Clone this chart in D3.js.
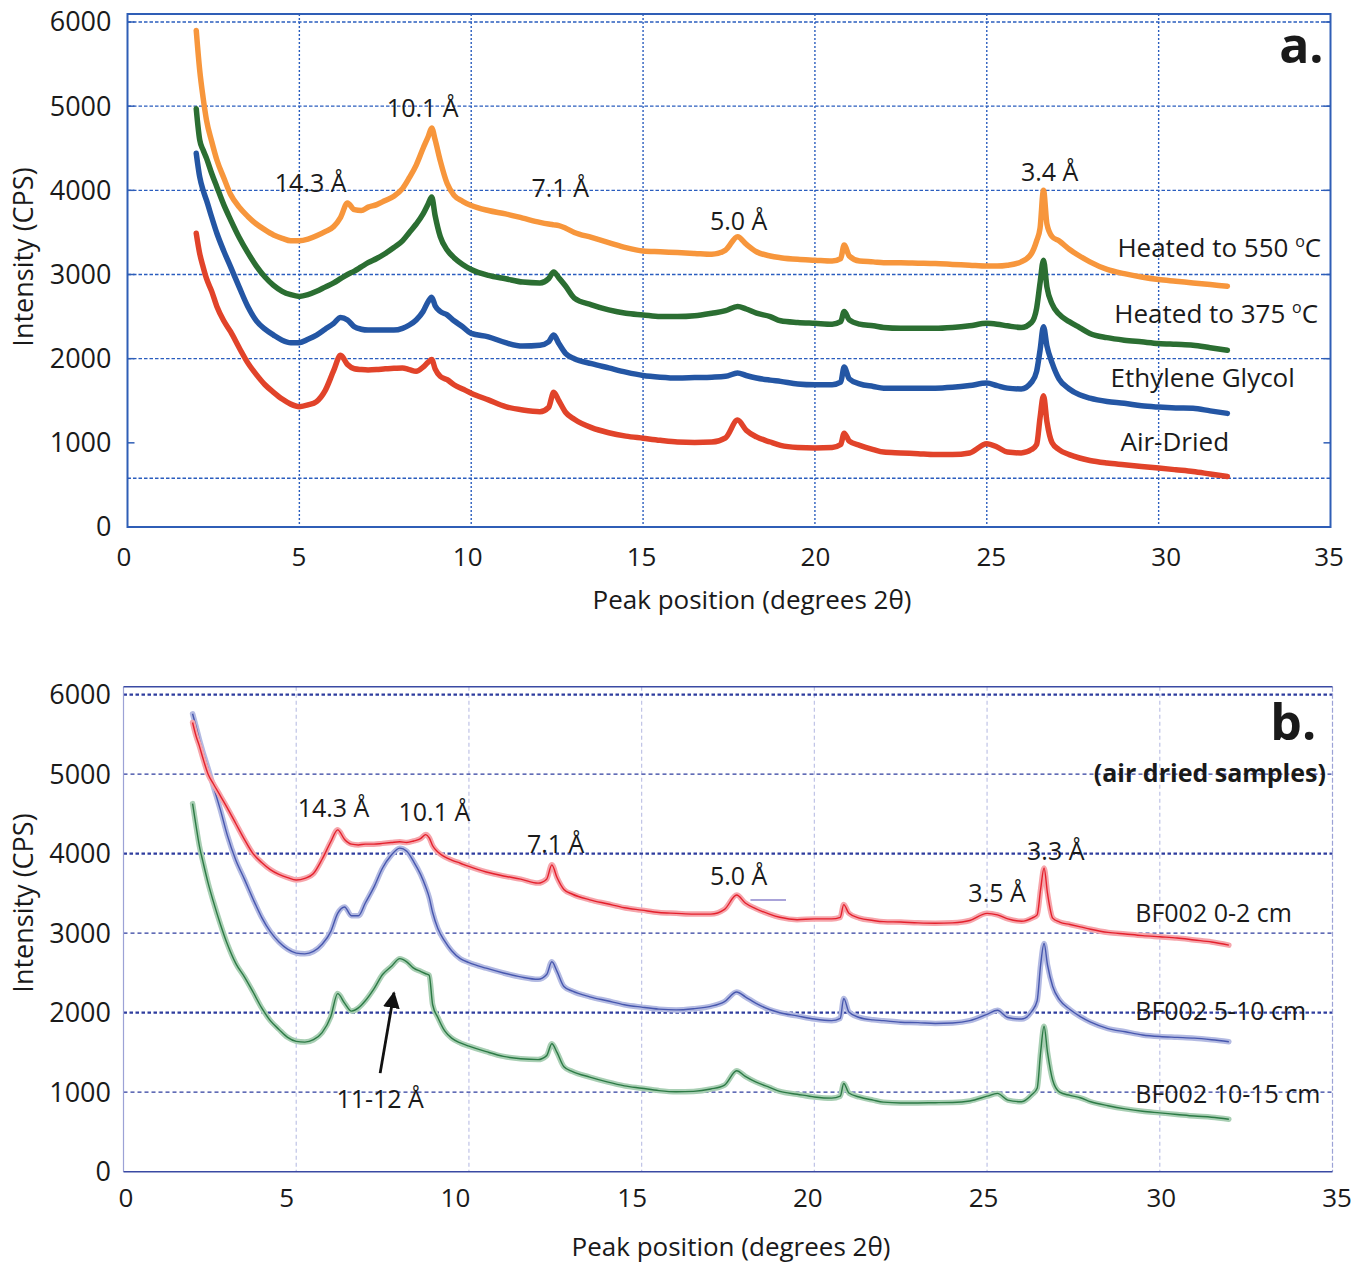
<!DOCTYPE html>
<html><head><meta charset="utf-8">
<script src="https://cdn.jsdelivr.net/npm/d3@7"></script>
<style>
html,body{margin:0;padding:0;background:#fff;}
svg{display:block;font-family:"Open Sans",sans-serif;}
</style></head><body>
<svg id="chart" width="1359" height="1264"></svg>
<script>
// ---------------- DATA ----------------
const twoTheta = [2.0,2.1,2.2,2.3,2.45,2.6,2.8,3.0,3.25,3.5,
 3.75,4.0,4.25,4.5,4.75,5.0,5.25,5.5,5.75,6.0,
 6.2,6.4,6.6,6.8,7.0,7.25,7.5,7.75,8.0,8.2,
 8.4,8.6,8.75,8.85,8.95,9.1,9.3,9.5,9.75,10.0,
 10.5,11.0,11.5,12.0,12.25,12.4,12.55,12.75,13.0,13.5,
 14.0,14.5,15.0,15.5,16.0,16.5,17.0,17.4,17.75,18.0,
 18.3,18.7,19.0,19.5,20.0,20.5,20.75,20.85,21.0,21.3,
 21.7,22.0,22.5,23.0,23.5,24.0,24.5,25.0,25.3,25.6,
 26.0,26.3,26.45,26.55,26.65,26.75,26.9,27.1,27.4,27.7,
 28.0,28.5,29.0,29.5,30.0,30.5,31.0,31.5,32.0];

// Panel a
const heated550 = [5900,5430,5100,4830,4580,4360,4150,3950,3800,3690,
 3600,3530,3470,3430,3400,3400,3420,3460,3510,3570,
 3680,3850,3770,3760,3800,3830,3880,3930,4020,4150,
 4300,4500,4640,4740,4600,4350,4080,3940,3870,3820,
 3760,3720,3670,3620,3600,3590,3580,3550,3500,3440,
 3380,3320,3280,3270,3260,3250,3240,3290,3450,3360,
 3270,3220,3200,3180,3170,3160,3190,3350,3220,3160,
 3150,3140,3140,3135,3130,3120,3110,3100,3100,3110,
 3150,3250,3400,3550,4000,3600,3450,3400,3300,3220,
 3150,3060,3010,2970,2940,2920,2900,2880,2860];
const heated375 = [4970,4600,4480,4380,4200,4040,3830,3650,3440,3260,
 3100,2970,2870,2800,2760,2740,2760,2800,2850,2900,
 2950,3000,3040,3090,3140,3190,3250,3320,3400,3500,
 3600,3720,3840,3920,3700,3450,3290,3200,3120,3060,
 2990,2950,2910,2900,2950,3030,2960,2860,2720,2640,
 2580,2540,2520,2500,2500,2510,2540,2570,2620,2590,
 2540,2500,2450,2430,2420,2410,2440,2560,2460,2410,
 2390,2370,2360,2360,2360,2370,2390,2420,2410,2390,
 2370,2430,2600,2900,3170,2850,2650,2530,2440,2370,
 2300,2250,2220,2200,2180,2170,2160,2130,2100];
const ethyleneGlycol = [4440,4160,4000,3880,3680,3490,3280,3090,2850,2620,
 2450,2350,2280,2220,2190,2190,2230,2280,2350,2420,
 2490,2460,2380,2350,2340,2340,2340,2340,2360,2400,
 2460,2560,2680,2730,2630,2560,2520,2450,2380,2300,
 2260,2190,2150,2160,2200,2280,2180,2060,2000,1940,
 1890,1840,1800,1780,1770,1775,1780,1790,1830,1800,
 1770,1745,1730,1700,1690,1690,1720,1900,1760,1700,
 1670,1650,1650,1650,1650,1660,1680,1710,1680,1650,
 1640,1720,1850,2100,2380,2150,1950,1760,1640,1570,
 1530,1490,1470,1440,1425,1415,1410,1380,1350];
const airDried = [3490,3250,3090,2950,2800,2620,2450,2320,2130,1950,
 1810,1690,1600,1520,1460,1430,1450,1490,1620,1860,
 2040,1930,1880,1870,1865,1870,1880,1885,1890,1870,
 1850,1900,1960,1990,1880,1790,1750,1690,1640,1590,
 1510,1430,1390,1370,1420,1600,1500,1360,1280,1180,
 1120,1080,1055,1030,1010,1005,1010,1060,1270,1150,
 1070,1010,970,945,940,945,980,1115,1020,970,
 920,890,880,870,860,860,880,990,950,890,
 880,920,980,1300,1560,1250,1000,920,860,820,
 790,760,740,720,700,680,660,630,600];

// Panel b
const bf002_0_2 = [5650,5480,5350,5200,5000,4880,4730,4580,4380,4180,
 4000,3890,3800,3740,3700,3670,3690,3750,3930,4150,
 4300,4180,4120,4110,4120,4120,4130,4140,4150,4140,
 4160,4190,4240,4200,4100,4020,3960,3920,3880,3840,
 3770,3720,3680,3630,3680,3860,3700,3550,3490,3420,
 3370,3320,3290,3260,3250,3240,3240,3300,3480,3380,
 3310,3240,3200,3170,3180,3180,3200,3360,3250,3190,
 3160,3145,3140,3130,3125,3130,3160,3250,3230,3180,
 3150,3190,3230,3550,3820,3500,3190,3140,3110,3080,
 3050,3010,2990,2970,2955,2940,2915,2890,2850];
const bf002_5_10 = [5760,5600,5430,5280,5070,4850,4560,4240,3920,3680,
 3430,3200,3020,2890,2800,2750,2740,2770,2860,3020,
 3250,3330,3220,3220,3380,3580,3820,3980,4070,4030,
 3900,3740,3580,3450,3260,3060,2900,2780,2680,2630,
 2560,2500,2450,2420,2480,2640,2520,2330,2270,2200,
 2150,2100,2070,2045,2035,2050,2080,2140,2260,2200,
 2120,2040,2000,1960,1920,1900,1930,2180,2010,1940,
 1910,1900,1880,1875,1865,1870,1900,1980,2030,1940,
 1920,2020,2150,2600,2870,2600,2330,2160,2040,1950,
 1880,1800,1760,1720,1700,1690,1680,1660,1635];
const bf002_10_15 = [4630,4350,4090,3900,3630,3400,3120,2870,2620,2450,
 2260,2060,1900,1790,1690,1640,1630,1660,1750,1950,
 2240,2120,2020,2060,2150,2300,2480,2580,2680,2640,
 2560,2520,2490,2470,2100,1940,1770,1680,1620,1580,
 1510,1450,1420,1410,1460,1610,1500,1320,1260,1190,
 1130,1080,1050,1020,1005,1010,1040,1090,1270,1200,
 1130,1060,1010,975,940,925,950,1110,990,940,
 900,875,865,865,868,870,890,950,985,900,
 880,970,1050,1500,1830,1500,1150,1000,960,930,
 880,830,790,760,740,720,700,685,660];

const xTicks = [0,5,10,15,20,25,30,35];
const yTicks = [0,1000,2000,3000,4000,5000,6000];
const xGridValues = [5,10,15,20,25,30];
const yGridA = [580,2000,3000,4000,5000,6000];
const yGridB = [1000,2000,3000,4000,5000,6000];
const yGridBBold = [2000,4000,6000];

// ---------------- DRAW ----------------
const svg = d3.select("#chart");
svg.append("rect").attr("width",1359).attr("height",1264).attr("fill","#fff");

function pts(vals){ return twoTheta.map((t,i)=>[t, vals[i]]).filter(d=>d[1]!=null); }

function label(g, x, y, text, opts){
  return g.append("text").attr("x",x).attr("y",y)
    .attr("font-size", opts.size || 25).attr("fill","#1a1a1a")
    .attr("text-anchor", opts.anchor || "start")
    .attr("font-weight", opts.weight || "normal").text(text);
}
function degLabel(g, x, y, pre){
  const t = g.append("text").attr("x",x).attr("y",y).attr("font-size",26).attr("fill","#1a1a1a");
  t.append("tspan").text(pre);
  t.append("tspan").attr("font-size",16).attr("dy",-10).text("o");
  t.append("tspan").attr("dy",10).text("C");
}

// ===== Panel a =====
(function(){
  const x = d3.scaleLinear().domain([0,35]).range([127.5,1330.5]);
  const y = d3.scaleLinear().domain([0,6000]).range([527,22]);
  const g = svg.append("g");
  const gc = "#2A5DBE";
  g.selectAll(".hg").data(yGridA).enter().append("line")
    .attr("x1",x(0)).attr("x2",x(35)).attr("y1",d=>y(d)).attr("y2",d=>y(d))
    .attr("stroke",gc).attr("stroke-width",1.4).attr("stroke-dasharray","3.5,2");
  g.selectAll(".vg").data(xGridValues).enter().append("line")
    .attr("x1",d=>x(d)).attr("x2",d=>x(d)).attr("y1",y(6095)).attr("y2",y(0))
    .attr("stroke",gc).attr("stroke-width",1.4).attr("stroke-dasharray","2,2");
  g.append("rect").attr("x",x(0)).attr("y",y(6095)).attr("width",x(35)-x(0)).attr("height",y(0)-y(6095))
    .attr("fill","none").attr("stroke","#2F5EB6").attr("stroke-width",2);
  yTicks.forEach(v=>{
    g.append("line").attr("x1",x(0)).attr("x2",x(0)+7).attr("y1",y(v)).attr("y2",y(v)).attr("stroke","#2F5EB6").attr("stroke-width",1.5);
    g.append("line").attr("x1",x(35)-7).attr("x2",x(35)).attr("y1",y(v)).attr("y2",y(v)).attr("stroke","#2F5EB6").attr("stroke-width",1.5);
  });
  const nudgeA = {0:-4,5:-1,10:-4,15:-2,20:0,25:4,30:7,35:-2};
  const ax = g.append("g").attr("transform",`translate(0,${y(0)})`)
    .call(d3.axisBottom(x).tickValues(xTicks).tickSize(0).tickPadding(21).tickFormat(d3.format("d")));
  ax.select(".domain").remove();
  ax.selectAll("text").attr("font-size",26).attr("fill","#1a1a1a").attr("font-family","Open Sans")
    .attr("dx",d=>nudgeA[d]);
  const ay = g.append("g").attr("transform",`translate(${x(0)},0)`)
    .call(d3.axisLeft(y).tickValues(yTicks).tickSize(0).tickPadding(16).tickFormat(d3.format("d")));
  ay.select(".domain").remove();
  ay.selectAll("text").attr("font-size",27).attr("fill","#1a1a1a").attr("font-family","Open Sans").attr("dy","0.33em");
  g.append("text").attr("x",752).attr("y",609).attr("text-anchor","middle").attr("font-size",26).attr("fill","#1a1a1a")
    .text("Peak position (degrees 2θ)");
  g.append("text").attr("transform",`translate(33,${257}) rotate(-90)`).attr("text-anchor","middle")
    .attr("font-size",27).attr("fill","#1a1a1a").text("Intensity (CPS)");
  const line = d3.line().x(d=>x(d[0])).y(d=>y(d[1])).curve(d3.curveMonotoneX);
  const series = [[airDried,"#E1432A"],[ethyleneGlycol,"#2456A4"],[heated375,"#2B6E32"],[heated550,"#F7963C"]];
  series.forEach(([vals,col])=>{
    g.append("path").datum(pts(vals)).attr("d",line).attr("fill","none")
      .attr("stroke",col).attr("stroke-width",5.5).attr("stroke-linejoin","round").attr("stroke-linecap","round");
  });
  const ann = [["14.3 Å",5.33,3980],["10.1 Å",8.59,4870],["7.1 Å",12.59,3920],["5.0 Å",17.78,3530],["3.4 Å",26.83,4110]];
  ann.forEach(([t,a,b])=>label(g,x(a),y(b),t,{anchor:"middle",size:25}));
  label(g,x(34.8),y(5510),"a.",{anchor:"end",size:50,weight:"bold"});
  degLabel(g,x(28.8),y(3205),"Heated to 550 ");
  degLabel(g,x(28.71),y(2420),"Heated to 375 ");
  label(g,x(28.6),y(1660),"Ethylene Glycol",{size:26});
  label(g,x(28.89),y(900),"Air-Dried",{size:26});
})();

// ===== Panel b =====
(function(){
  const x = d3.scaleLinear().domain([0,35]).range([123.5,1332.5]);
  const y = d3.scaleLinear().domain([0,6000]).range([1171.7,694.7]);
  const g = svg.append("g");
  g.selectAll(".vg").data(xGridValues).enter().append("line")
    .attr("x1",d=>x(d)).attr("x2",d=>x(d)).attr("y1",y(6100)).attr("y2",y(0))
    .attr("stroke","#BFC3E6").attr("stroke-width",1.2).attr("stroke-dasharray","4,3");
  g.selectAll(".hg").data(yGridB).enter().append("line")
    .attr("x1",x(0)).attr("x2",x(35)).attr("y1",d=>y(d)).attr("y2",d=>y(d))
    .attr("stroke","#2E3D9E")
    .attr("stroke-width",d=>yGridBBold.includes(d)?2.2:1.2)
    .attr("stroke-dasharray",d=>yGridBBold.includes(d)?"3.5,2.5":"4,3");
  g.append("line").attr("x1",x(0)).attr("x2",x(0)).attr("y1",y(6100)).attr("y2",y(0)).attr("stroke","#9CA2D6").attr("stroke-width",1.2);
  g.append("line").attr("x1",x(35)).attr("x2",x(35)).attr("y1",y(6100)).attr("y2",y(0)).attr("stroke","#9CA2D6").attr("stroke-width",1.2).attr("stroke-dasharray","5,2");
  g.append("line").attr("x1",x(0)).attr("x2",x(35)).attr("y1",y(6100)).attr("y2",y(6100)).attr("stroke","#3A4AA3").attr("stroke-width",1.6);
  g.append("line").attr("x1",x(0)).attr("x2",x(35)).attr("y1",y(0)).attr("y2",y(0)).attr("stroke","#3A4AA3").attr("stroke-width",1.6);
  const nudgeB = {0:2,5:-10,10:-14,15:-10,20:-7,25:-4,30:1,35:4};
  const ax = g.append("g").attr("transform",`translate(0,${y(0)})`)
    .call(d3.axisBottom(x).tickValues(xTicks).tickSize(0).tickPadding(17).tickFormat(d3.format("d")));
  ax.select(".domain").remove();
  ax.selectAll("text").attr("font-size",26).attr("fill","#1a1a1a").attr("font-family","Open Sans")
    .attr("dx",d=>nudgeB[d]);
  const ay = g.append("g").attr("transform",`translate(${x(0)},0)`)
    .call(d3.axisLeft(y).tickValues(yTicks).tickSize(0).tickPadding(12.5).tickFormat(d3.format("d")));
  ay.select(".domain").remove();
  ay.selectAll("text").attr("font-size",27).attr("fill","#1a1a1a").attr("font-family","Open Sans").attr("dy","0.33em");
  g.append("text").attr("x",731).attr("y",1256).attr("text-anchor","middle").attr("font-size",26).attr("fill","#1a1a1a")
    .text("Peak position (degrees 2θ)");
  g.append("text").attr("transform",`translate(33,${903}) rotate(-90)`).attr("text-anchor","middle")
    .attr("font-size",27).attr("fill","#1a1a1a").text("Intensity (CPS)");
  const line = d3.line().x(d=>x(d[0])).y(d=>y(d[1])).curve(d3.curveMonotoneX);
  const series = [[bf002_10_15,"#2C7A45","#A9CFB4"],[bf002_5_10,"#4757AE","#B3BAE2"],[bf002_0_2,"#E4202C","#F6A5AB"]];
  series.forEach(([vals,col,band])=>{
    g.append("path").datum(pts(vals)).attr("d",line).attr("fill","none")
      .attr("stroke",band).attr("stroke-width",5.5).attr("stroke-linejoin","round").attr("stroke-linecap","round");
    g.append("path").datum(pts(vals)).attr("d",line).attr("fill","none")
      .attr("stroke",col).attr("stroke-width",1.4).attr("stroke-linejoin","round");
  });
  const ann = [["14.3 Å",6.08,4465],["10.1 Å",9.0,4415],["7.1 Å",12.51,4010],["5.0 Å",17.81,3605],
               ["3.5 Å",25.29,3395],["3.3 Å",26.99,3920],["11-12 Å",7.43,800]];
  ann.forEach(([t,a,b])=>label(g,x(a),y(b),t,{anchor:"middle",size:25}));
  g.append("line").attr("x1",x(18.15)).attr("x2",x(19.18)).attr("y1",y(3418)).attr("y2",y(3418))
    .attr("stroke","#8C84CC").attr("stroke-width",1.5);
  label(g,x(34.53),y(5430),"b.",{anchor:"end",size:50,weight:"bold"});
  label(g,x(34.81),y(4905),"(air dried samples)",{anchor:"end",size:25,weight:"bold"});
  label(g,x(29.29),y(3145),"BF002 0-2 cm",{size:25});
  label(g,x(29.29),y(1908),"BF002 5-10 cm",{size:25});
  label(g,x(29.29),y(868),"BF002 10-15 cm",{size:25});
  const defs = svg.append("defs");
  defs.append("marker").attr("id","ah").attr("viewBox","0 0 10 10").attr("refX",9).attr("refY",5)
    .attr("markerWidth",6).attr("markerHeight",6).attr("orient","auto")
    .append("path").attr("d","M0,0 L10,5 L0,10 Z").attr("fill","#111");
  g.append("line").attr("x1",x(7.43)).attr("y1",y(1240)).attr("x2",x(7.83)).attr("y2",y(2250))
    .attr("stroke","#111").attr("stroke-width",2.8).attr("marker-end","url(#ah)");
})();
</script>
</body></html>
